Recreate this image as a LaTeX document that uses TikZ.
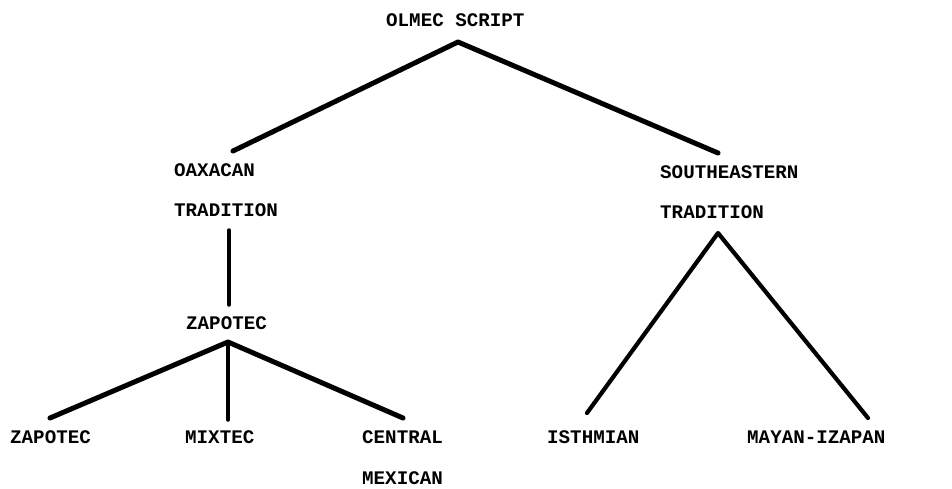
\documentclass[tikz,border=0pt]{standalone}
\usepackage{fontspec}
\setmonofont{Liberation Mono}
\begin{document}
\begin{tikzpicture}[x=1pt,y=-1pt,
  lbl/.style={font=\ttfamily\bfseries\fontsize{19.2}{21}\selectfont, inner sep=0pt, anchor=west},
  thick branch/.style={line width=5pt, line cap=round, line join=round},
  thin branch/.style={line width=3.5pt, line cap=round, line join=round}]
\useasboundingbox[fill=white] (0,0) rectangle (952,489);

% labels
\node[lbl] (olmec) at (386,20) {OLMEC SCRIPT};
\node[lbl] (oax1) at (174,170) {OAXACAN};
\node[lbl] (oax2) at (174,210) {TRADITION};
\node[lbl] (se1) at (660,172) {SOUTHEASTERN};
\node[lbl] (se2) at (660,212) {TRADITION};
\node[lbl] (zap) at (186,323) {ZAPOTEC};
\node[lbl] (zapb) at (10,437) {ZAPOTEC};
\node[lbl] (mix) at (185,437) {MIXTEC};
\node[lbl] (cen1) at (362,437) {CENTRAL};
\node[lbl] (cen2) at (362,478) {MEXICAN};
\node[lbl] (isth) at (547,437) {ISTHMIAN};
\node[lbl] (maya) at (747,437) {MAYAN-IZAPAN};

% branch points and line ends
\coordinate (top) at (458,42);
\coordinate (topL) at (233,151);
\coordinate (topR) at (718,153);
\coordinate (oaxS) at (229,230);
\coordinate (zapN) at (229,305);
\coordinate (zapS) at (228,342);
\coordinate (zapL) at (50,418);
\coordinate (zapM) at (228,420);
\coordinate (zapR) at (403,418);
\coordinate (seS) at (718,233);
\coordinate (seL) at (587,413);
\coordinate (seR) at (868,418);

% connectors
\draw[thick branch] (topL) -- (top) -- (topR);
\draw[thin branch] (oaxS) -- (zapN);
\draw[thick branch] (zapL) -- (zapS) -- (zapR);
\draw[thin branch] (zapS) -- (zapM);
\draw[line width=4.2pt, line cap=round, line join=round] (seL) -- (seS) -- (seR);
\end{tikzpicture}
\end{document}
